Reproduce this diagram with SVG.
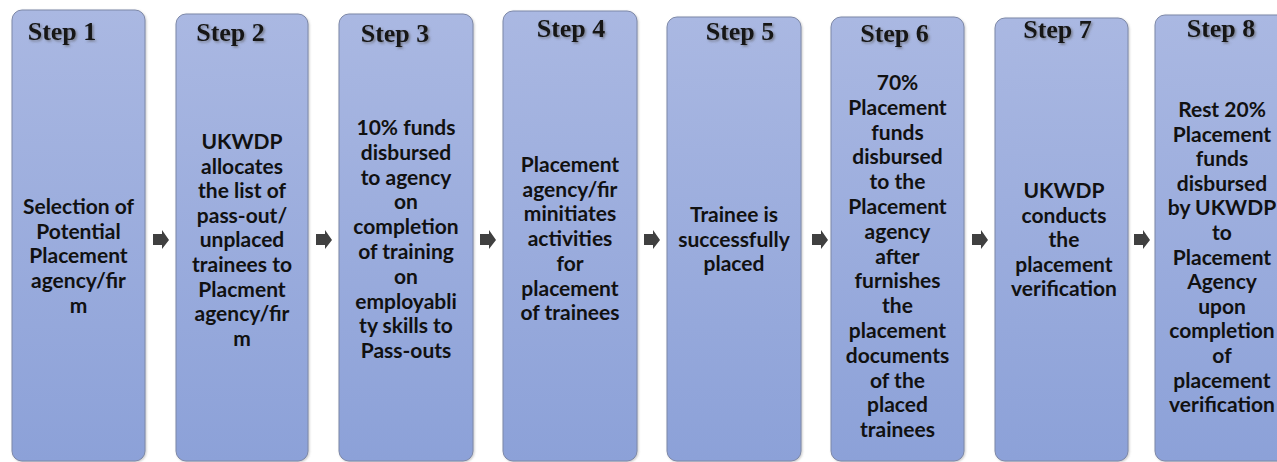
<svg xmlns="http://www.w3.org/2000/svg" width="1277" height="462" viewBox="0 0 1277 462">
<defs>
<linearGradient id="boxfill" x1="0" y1="0" x2="0" y2="1">
<stop offset="0" stop-color="#aab8e2"/>
<stop offset="1" stop-color="#8ca1d8"/>
</linearGradient>
<filter id="tshadow" x="-20%" y="-20%" width="140%" height="160%">
<feDropShadow dx="1.5" dy="1.5" stdDeviation="1" flood-color="#555" flood-opacity="0.6"/>
</filter>
<filter id="bshadow" x="-10%" y="-5%" width="120%" height="110%">
<feDropShadow dx="1" dy="1" stdDeviation="1" flood-color="#666" flood-opacity="0.35"/>
</filter>
<path id="arr" d="M0,4 H9 V0 L16,10 L9,19 V15 H0 Z"/>
</defs>
<style>
.box{fill:url(#boxfill);stroke:#7d88a8;stroke-width:1;filter:url(#bshadow)}
.title{font-family:"Liberation Serif","Times New Roman",serif;font-weight:bold;font-size:26px;fill:#141414;text-anchor:middle;filter:url(#tshadow)}
.body{font-family:Lato,"Open Sans",sans-serif;font-weight:700;font-size:21px;fill:#111;text-anchor:middle}
.arrow{fill:#404040}
</style>
<rect width="1277" height="462" fill="#ffffff"/>

<g id="step1">
<rect class="box" x="12" y="10" width="133" height="451" rx="10"/>
<text class="title" x="62" y="40">Step 1</text>
<text class="body" x="78.5" y="214"><tspan x="78.5">Selection of</tspan><tspan x="78.5" dy="24.7">Potential</tspan><tspan x="78.5" dy="24.7">Placement</tspan><tspan x="78.5" dy="24.7">agency/fir</tspan><tspan x="78.5" dy="24.7">m</tspan></text>
</g>

<g id="step2">
<rect class="box" x="176" y="14" width="132" height="447" rx="10"/>
<text class="title" x="230.5" y="41">Step 2</text>
<text class="body" x="242" y="149"><tspan x="242">UKWDP</tspan><tspan x="242" dy="24.6">allocates</tspan><tspan x="242" dy="24.6">the list of</tspan><tspan x="242" dy="24.6">pass-out/</tspan><tspan x="242" dy="24.6">unplaced</tspan><tspan x="242" dy="24.6">trainees to</tspan><tspan x="242" dy="24.6">Placment</tspan><tspan x="242" dy="24.6">agency/fir</tspan><tspan x="242" dy="24.6">m</tspan></text>
</g>

<g id="step3">
<rect class="box" x="339" y="14" width="134" height="447" rx="10"/>
<text class="title" x="395" y="42">Step 3</text>
<text class="body" x="406" y="135"><tspan x="406">10% funds</tspan><tspan x="406" dy="24.8">disbursed</tspan><tspan x="406" dy="24.8">to agency</tspan><tspan x="406" dy="24.8">on</tspan><tspan x="406" dy="24.8">completion</tspan><tspan x="406" dy="24.8">of training</tspan><tspan x="406" dy="24.8">on</tspan><tspan x="406" dy="24.8">employabli</tspan><tspan x="406" dy="24.8">ty skills to</tspan><tspan x="406" dy="24.8">Pass-outs</tspan></text>
</g>

<g id="step4">
<rect class="box" x="503" y="11" width="134" height="450" rx="10"/>
<text class="title" x="571" y="37">Step 4</text>
<text class="body" x="570" y="172"><tspan x="570">Placement</tspan><tspan x="570" dy="24.7">agency/fir</tspan><tspan x="570" dy="24.7">minitiates</tspan><tspan x="570" dy="24.7">activities</tspan><tspan x="570" dy="24.7">for</tspan><tspan x="570" dy="24.7">placement</tspan><tspan x="570" dy="24.7">of trainees</tspan></text>
</g>

<g id="step5">
<rect class="box" x="667" y="17" width="134" height="444" rx="10"/>
<text class="title" x="740" y="40">Step 5</text>
<text class="body" x="734" y="222"><tspan x="734">Trainee is</tspan><tspan x="734" dy="24.5">successfully</tspan><tspan x="734" dy="24.5">placed</tspan></text>
</g>

<g id="step6">
<rect class="box" x="831" y="17" width="133" height="444" rx="10"/>
<text class="title" x="894.5" y="42">Step 6</text>
<text class="body" x="897.5" y="90"><tspan x="897.5">70%</tspan><tspan x="897.5" dy="24.8">Placement</tspan><tspan x="897.5" dy="24.8">funds</tspan><tspan x="897.5" dy="24.8">disbursed</tspan><tspan x="897.5" dy="24.8">to the</tspan><tspan x="897.5" dy="24.8">Placement</tspan><tspan x="897.5" dy="24.8">agency</tspan><tspan x="897.5" dy="24.8">after</tspan><tspan x="897.5" dy="24.8">furnishes</tspan><tspan x="897.5" dy="24.8">the</tspan><tspan x="897.5" dy="24.8">placement</tspan><tspan x="897.5" dy="24.8">documents</tspan><tspan x="897.5" dy="24.8">of the</tspan><tspan x="897.5" dy="24.8">placed</tspan><tspan x="897.5" dy="24.8">trainees</tspan></text>
</g>

<g id="step7">
<rect class="box" x="995" y="18" width="133" height="443" rx="10"/>
<text class="title" x="1057.5" y="38">Step 7</text>
<text class="body" x="1064" y="198"><tspan x="1064">UKWDP</tspan><tspan x="1064" dy="24.5">conducts</tspan><tspan x="1064" dy="24.5">the</tspan><tspan x="1064" dy="24.5">placement</tspan><tspan x="1064" dy="24.5">verification</tspan></text>
</g>

<g id="step8">
<rect class="box" x="1155" y="15" width="140" height="446" rx="10"/>
<text class="title" x="1221" y="37">Step 8</text>
<text class="body" x="1222" y="117"><tspan x="1222">Rest 20%</tspan><tspan x="1222" dy="24.6">Placement</tspan><tspan x="1222" dy="24.6">funds</tspan><tspan x="1222" dy="24.6">disbursed</tspan><tspan x="1222" dy="24.6">by UKWDP</tspan><tspan x="1222" dy="24.6">to</tspan><tspan x="1222" dy="24.6">Placement</tspan><tspan x="1222" dy="24.6">Agency</tspan><tspan x="1222" dy="24.6">upon</tspan><tspan x="1222" dy="24.6">completion</tspan><tspan x="1222" dy="24.6">of</tspan><tspan x="1222" dy="24.6">placement</tspan><tspan x="1222" dy="24.6">verification</tspan></text>
</g>

<g id="connectors">
<use href="#arr" class="arrow" x="153" y="230"/>
<use href="#arr" class="arrow" x="316" y="230"/>
<use href="#arr" class="arrow" x="480" y="230"/>
<use href="#arr" class="arrow" x="644" y="230"/>
<use href="#arr" class="arrow" x="812" y="230"/>
<use href="#arr" class="arrow" x="972" y="230"/>
<use href="#arr" class="arrow" x="1134" y="230"/>
</g>
</svg>
